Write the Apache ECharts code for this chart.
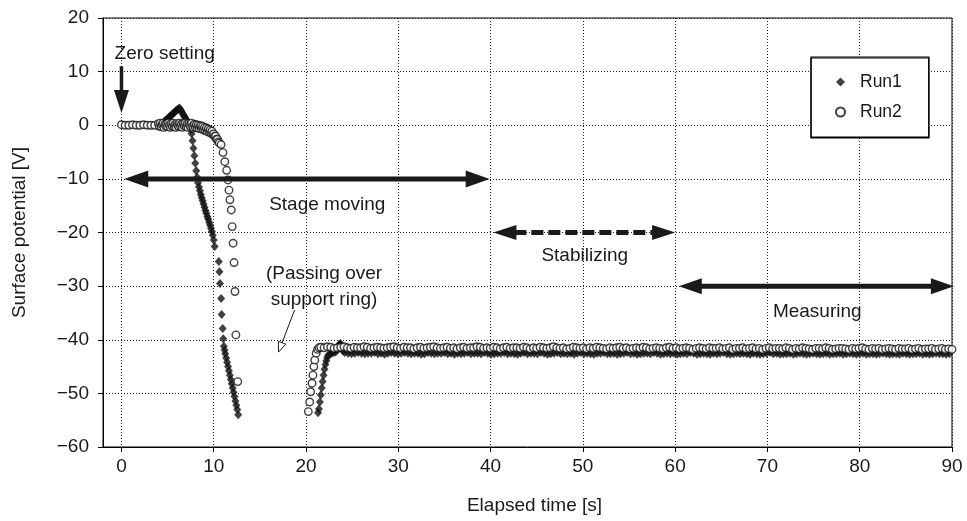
<!DOCTYPE html>
<html>
<head>
<meta charset="utf-8">
<script src="https://cdn.jsdelivr.net/npm/echarts@6/dist/echarts.min.js"></script>
<style>
  html, body { margin: 0; padding: 0; background: #fff; }
  #chart { width: 967px; height: 521px; }
</style>
</head>
<body>
<div id="chart"></div>
<script>
// ---------------- Measured surface potential [V] ----------------

// Run1 (filled diamonds)
// t = 4.0 ... 10.1 s, every 0.1 s
const run1PeakV = [
  0.0, 0.0, 0.0, 0.1, 0.3, 0.4, 0.6, 0.8, 0.9, 1.1,
  1.2, 1.4, 1.6, 1.7, 1.9, 2.0, 2.2, 2.4, 2.5, 2.7,
  2.8, 3.0, 3.1, 3.2, 2.9, 2.6, 2.3, 2.0, 1.7, 1.4,
  1.1, 0.8, 0.5, 0.2, -0.2, -0.8, -1.6, -2.9, -4.3, -5.7,
  -7.1, -8.5, -9.7, -10.7, -11.5, -12.2, -12.9, -13.5, -14.1, -14.7,
  -15.3, -15.9, -16.4, -17.0, -17.5, -18.1, -18.6, -19.2, -19.8, -20.5,
  -21.4, -22.6
];
const run1FallT = [10.55, 10.62, 10.68, 10.8, 10.86, 10.97, 11.03, 11.1, 11.17, 11.25, 11.35, 11.45,
                   11.55, 11.65, 11.75, 11.85, 11.95, 12.05, 12.15, 12.25, 12.35, 12.45, 12.55, 12.65];
const run1FallV = [-25.4, -27.3, -29.5, -32.3, -35.3, -37.9, -39.8, -41.2, -41.9, -42.6, -43.4, -44.2,
                   -45.0, -45.8, -46.6, -47.4, -48.2, -49.0, -49.8, -50.6, -51.4, -52.2, -53.0, -54.0];
const run1RiseT = [21.3, 21.4, 21.5, 21.6, 21.7, 21.8, 21.9, 22.0, 22.1, 22.2, 22.3, 22.4,
                   22.6, 22.8, 23.0, 23.2, 23.4, 23.5, 23.6, 23.7, 23.8, 23.9, 24.0];
const run1RiseV = [-53.6, -52.9, -51.6, -50.3, -49.0, -47.8, -46.6, -45.5, -44.6, -43.9, -43.3, -42.9,
                   -42.6, -42.5, -42.4, -42.3, -41.9, -41.4, -40.9, -40.7, -40.9, -41.5, -42.1];
// t = 24.2 ... 89.72 s, every 0.36 s
const run1FlatV = [
  -42.4,-42.5,-42.6,-42.5,-42.4,-42.5,-42.6,-42.5,-42.5,-42.4,-42.6,-42.5,-42.7,-42.5,-42.4,-42.5,-42.6,-42.5,-42.4,-42.5,
  -42.6,-42.5,-42.5,-42.7,-42.6,-42.4,-42.5,-42.6,-42.5,-42.5,-42.4,-42.6,-42.5,-42.7,-42.5,-42.6,-42.5,-42.4,-42.6,-42.5,
  -42.5,-42.6,-42.4,-42.5,-42.7,-42.6,-42.5,-42.5,-42.4,-42.6,-42.5,-42.6,-42.7,-42.5,-42.4,-42.6,-42.5,-42.5,-42.6,-42.4,
  -42.5,-42.7,-42.6,-42.5,-42.4,-42.6,-42.5,-42.6,-42.5,-42.7,-42.5,-42.4,-42.6,-42.5,-42.6,-42.7,-42.5,-42.5,-42.4,-42.6,
  -42.6,-42.5,-42.7,-42.6,-42.5,-42.4,-42.6,-42.5,-42.7,-42.6,-42.5,-42.5,-42.6,-42.4,-42.5,-42.7,-42.6,-42.5,-42.6,-42.5,
  -42.7,-42.6,-42.5,-42.6,-42.4,-42.5,-42.7,-42.6,-42.5,-42.6,-42.7,-42.5,-42.6,-42.5,-42.4,-42.6,-42.7,-42.6,-42.5,-42.6,
  -42.5,-42.6,-42.7,-42.5,-42.6,-42.7,-42.6,-42.5,-42.4,-42.6,-42.5,-42.7,-42.6,-42.6,-42.5,-42.7,-42.6,-42.5,-42.6,-42.7,
  -42.6,-42.5,-42.6,-42.7,-42.6,-42.5,-42.7,-42.6,-42.6,-42.5,-42.7,-42.6,-42.5,-42.6,-42.7,-42.6,-42.5,-42.7,-42.6,-42.6,
  -42.7,-42.6,-42.5,-42.6,-42.7,-42.6,-42.6,-42.7,-42.5,-42.6,-42.7,-42.6,-42.6,-42.5,-42.7,-42.6,-42.7,-42.6,-42.5,-42.6,
  -42.6,-42.7,-42.6
];

// Run2 (open circles)
// t = 0 ... 3.6 s, every 0.4 s
const run2IdleV = [0.1, 0.0, 0.0, 0.1, 0.0, 0.0, 0.1, 0.0, 0.0, 0.0];
// t = 4.0 ... 10.6 s, every 0.1 s
const run2HoldV = [
  0.3, -0.2, 0.4, -0.3, 0.1, 0.4, -0.4, 0.2, -0.1, 0.3,
  -0.3, 0.4, 0.0, -0.4, 0.3, -0.2, 0.4, -0.3, 0.1, -0.4,
  0.3, 0.0, -0.3, 0.4, -0.2, 0.2, -0.4, 0.3, -0.1, 0.4,
  -0.3, 0.2, -0.4, 0.3, 0.0, -0.3, 0.4, -0.2, -0.5, 0.2,
  -0.4, 0.1, -0.5, 0.0, -0.6, -0.2,
  -0.1, -0.7, -0.2, -0.9, -0.4, -1.0, -0.5, -1.2, -0.7, -1.3,
  -0.9, -1.5, -1.1, -1.7, -1.6, -2.1, -2.0, -2.6, -2.6, -3.1, -3.3
];
const run2FallT = [10.8, 11.0, 11.2, 11.4, 11.55, 11.65, 11.75, 11.9, 12.0, 12.1, 12.2, 12.3, 12.4, 12.6];
const run2FallV = [-3.6, -5.1, -6.8, -8.4, -10.2, -12.1, -13.9, -15.8, -18.9, -22.0, -25.6, -31.0, -39.1, -47.8];
const run2RiseT = [20.25, 20.4, 20.5, 20.65, 20.75, 20.85, 20.95, 21.1, 21.25, 21.4];
const run2RiseV = [-53.4, -51.6, -49.7, -48.1, -46.6, -45.0, -43.8, -42.5, -41.8, -41.5];
// t = 21.6 ... 90.0 s, every 0.36 s
const run2FlatV = [
  -41.4,-41.5,-41.3,-41.4,-41.6,-41.5,-41.4,-41.3,-41.5,-41.6,-41.4,-41.5,-41.5,-41.3,-41.4,-41.6,-41.5,-41.4,-41.5,-41.6,
  -41.5,-41.4,-41.3,-41.5,-41.6,-41.4,-41.5,-41.5,-41.7,-41.5,-41.4,-41.6,-41.5,-41.4,-41.3,-41.5,-41.6,-41.5,-41.4,-41.6,
  -41.5,-41.7,-41.5,-41.4,-41.6,-41.5,-41.5,-41.3,-41.4,-41.6,-41.5,-41.6,-41.4,-41.5,-41.7,-41.5,-41.4,-41.6,-41.5,-41.5,
  -41.6,-41.4,-41.5,-41.7,-41.5,-41.6,-41.4,-41.5,-41.6,-41.5,-41.3,-41.5,-41.6,-41.5,-41.7,-41.6,-41.4,-41.5,-41.6,-41.5,
  -41.7,-41.5,-41.6,-41.4,-41.5,-41.6,-41.7,-41.5,-41.6,-41.5,-41.4,-41.6,-41.5,-41.7,-41.6,-41.5,-41.6,-41.4,-41.5,-41.7,
  -41.6,-41.5,-41.6,-41.7,-41.5,-41.4,-41.6,-41.5,-41.7,-41.6,-41.5,-41.6,-41.8,-41.6,-41.5,-41.6,-41.7,-41.5,-41.6,-41.6,
  -41.5,-41.7,-41.6,-41.5,-41.8,-41.6,-41.6,-41.5,-41.7,-41.6,-41.5,-41.7,-41.6,-41.8,-41.6,-41.5,-41.7,-41.6,-41.6,-41.7,
  -41.5,-41.6,-41.8,-41.6,-41.7,-41.5,-41.6,-41.7,-41.8,-41.6,-41.6,-41.7,-41.5,-41.6,-41.8,-41.7,-41.6,-41.6,-41.7,-41.8,
  -41.6,-41.7,-41.6,-41.5,-41.7,-41.8,-41.6,-41.7,-41.6,-41.8,-41.7,-41.6,-41.7,-41.8,-41.6,-41.7,-41.7,-41.6,-41.8,-41.7,
  -41.6,-41.8,-41.7,-41.7,-41.6,-41.8,-41.7,-41.6,-41.8,-41.7,-41.8
];

// Axis tick values
const xTicks = [0, 10, 20, 30, 40, 50, 60, 70, 80, 90];

// ---------------- helpers ----------------
const onGrid = (t0, dt, vals) => vals.map((v, i) => [Math.round((t0 + i * dt) * 100) / 100, v]);
const zip = (ts, vs) => ts.map((t, i) => [t, vs[i]]);
const signed = (v) => (v < 0 ? '\u2212' + Math.abs(v) : String(v));

const run1Data = [].concat(
  onGrid(4.0, 0.1, run1PeakV),
  zip(run1FallT, run1FallV),
  zip(run1RiseT, run1RiseV),
  onGrid(24.2, 0.36, run1FlatV)
);
const run2Data = [].concat(
  onGrid(0, 0.4, run2IdleV),
  onGrid(4.0, 0.1, run2HoldV),
  zip(run2FallT, run2FallV),
  zip(run2RiseT, run2RiseV),
  onGrid(21.6, 0.36, run2FlatV)
);

const ink = '#1a1a1a';
const font = '"Liberation Sans", Arial, Helvetica, sans-serif';
const fs = 19;

const chart = echarts.init(document.getElementById('chart'), null, { renderer: 'canvas' });

const option = {
  animation: false,
  backgroundColor: '#fff',
  textStyle: { fontFamily: font, color: ink },
  grid: { left: 103, right: 15, top: 18, bottom: 74, show: true, borderColor: '#000', borderWidth: 1, backgroundColor: 'transparent' },
  xAxis: {
    type: 'value', min: -2, max: 90, splitNumber: 9,
    name: 'Elapsed time [s]', nameLocation: 'middle', nameGap: 49,
    nameTextStyle: { fontSize: fs, color: ink, fontFamily: font, padding: [0, 0, 0, 14] },
    axisLine: { onZero: false, lineStyle: { color: '#000', width: 1 } },
    axisTick: { show: true, inside: false, length: 5, lineStyle: { color: '#000' }, customValues: xTicks },
    axisLabel: { fontSize: fs, color: ink, margin: 10, fontFamily: font, customValues: xTicks, formatter: signed },
    splitLine: { show: true, lineStyle: { color: '#222', width: 1, type: [1, 2] } }
  },
  yAxis: {
    type: 'value', min: -60, max: 20, interval: 10,
    name: 'Surface potential [V]', nameLocation: 'middle', nameGap: 74, nameRotate: 90,
    nameTextStyle: { fontSize: fs, color: ink, fontFamily: font },
    axisLine: { onZero: false, lineStyle: { color: '#000', width: 1 } },
    axisTick: { show: true, inside: false, length: 5, lineStyle: { color: '#000' } },
    axisLabel: { fontSize: fs, color: ink, margin: 14, fontFamily: font, formatter: signed },
    splitLine: { show: true, lineStyle: { color: '#222', width: 1, type: [1, 2] } }
  },
  legend: {
    orient: 'vertical', left: 811, top: 57,
    data: ['Run1', 'Run2'],
    itemWidth: 9, itemHeight: 9, itemGap: 12,
    padding: [16, 27, 16, 24],
    backgroundColor: '#fff', borderColor: '#000', borderWidth: 1.2,
    shadowColor: '#000', shadowBlur: 0, shadowOffsetX: 0, shadowOffsetY: 1,
    textStyle: { fontSize: 17.5, color: ink, fontFamily: font, padding: [0, 0, 0, 10] }
  },
  series: [
    {
      name: 'Run1', type: 'scatter', data: run1Data, clip: false,
      symbol: 'diamond', symbolSize: [8, 9],
      itemStyle: { color: '#111', borderWidth: 0 },
      emphasis: { disabled: true }
    },
    {
      name: 'Run2', type: 'scatter', data: run2Data, clip: false,
      symbol: 'circle', symbolSize: 7.5,
      itemStyle: { color: '#fff', borderColor: '#111', borderWidth: 1.4 },
      emphasis: { disabled: true }
    }
  ]
};
chart.setOption(option);

// ---------------- annotations (placed in data coordinates) ----------------
const toPx = (p) => chart.convertToPixel({ gridIndex: 0 }, p);

function arrow(from, to, o) {
  const a = toPx(from), b = toPx(to);
  const dx = b[0] - a[0], dy = b[1] - a[1];
  const L = Math.hypot(dx, dy);
  const ux = dx / L, uy = dy / L, nx = -uy, ny = ux;
  const head = (tip, sx, sy) => ({
    type: 'polygon', z: 100,
    shape: { points: [
      [tip[0], tip[1]],
      [tip[0] - sx * o.len + nx * o.w / 2, tip[1] - sy * o.len + ny * o.w / 2],
      [tip[0] - sx * o.len - nx * o.w / 2, tip[1] - sy * o.len - ny * o.w / 2]
    ] },
    style: { fill: o.open ? '#fff' : ink, stroke: ink, lineWidth: o.open ? 1 : 0 }
  });
  const back = o.open ? o.len : o.len - 2;
  const s = o.both ? [a[0] + ux * back, a[1] + uy * back] : a;
  const e = [b[0] - ux * back, b[1] - uy * back];
  const parts = [{
    type: 'line', z: 99,
    shape: { x1: s[0], y1: s[1], x2: e[0], y2: e[1] },
    style: { stroke: ink, lineWidth: o.lw, lineDash: o.dash || null, lineCap: 'butt' }
  }, head(b, ux, uy)];
  if (o.both) parts.push(head(a, -ux, -uy));
  return parts;
}

function label(text, at, align) {
  const p = toPx(at);
  return {
    type: 'text', z: 100, x: p[0], y: p[1],
    style: { text: text, fontSize: fs, fontFamily: font, fill: ink, align: align || 'center', verticalAlign: 'middle' }
  };
}

const graphics = [].concat(
  arrow([0, 11.0], [0, 2.3], { lw: 3.5, len: 23, w: 15 }),
  arrow([0.3, -10], [39.9, -10], { lw: 5, len: 24, w: 17, both: true }),
  arrow([40.3, -20], [60.0, -20], { lw: 5, len: 23, w: 15, both: true, dash: [12, 5] }),
  arrow([60.4, -30], [90.2, -30], { lw: 5, len: 23, w: 16, both: true }),
  arrow([18.76, -34.45], [17.02, -42.3], { lw: 1, len: 10, w: 8, open: true }),
  [
    label('Zero setting', [-0.75, 13.3], 'left'),
    label('Stage moving', [22.3, -14.8]),
    label('Stabilizing', [50.2, -24.4]),
    label('Measuring', [75.4, -34.8]),
    label('(Passing over', [21.95, -27.7]),
    label('support ring)', [21.95, -32.5])
  ]
);
chart.setOption({ graphic: { elements: graphics } });
</script>
</body>
</html>
